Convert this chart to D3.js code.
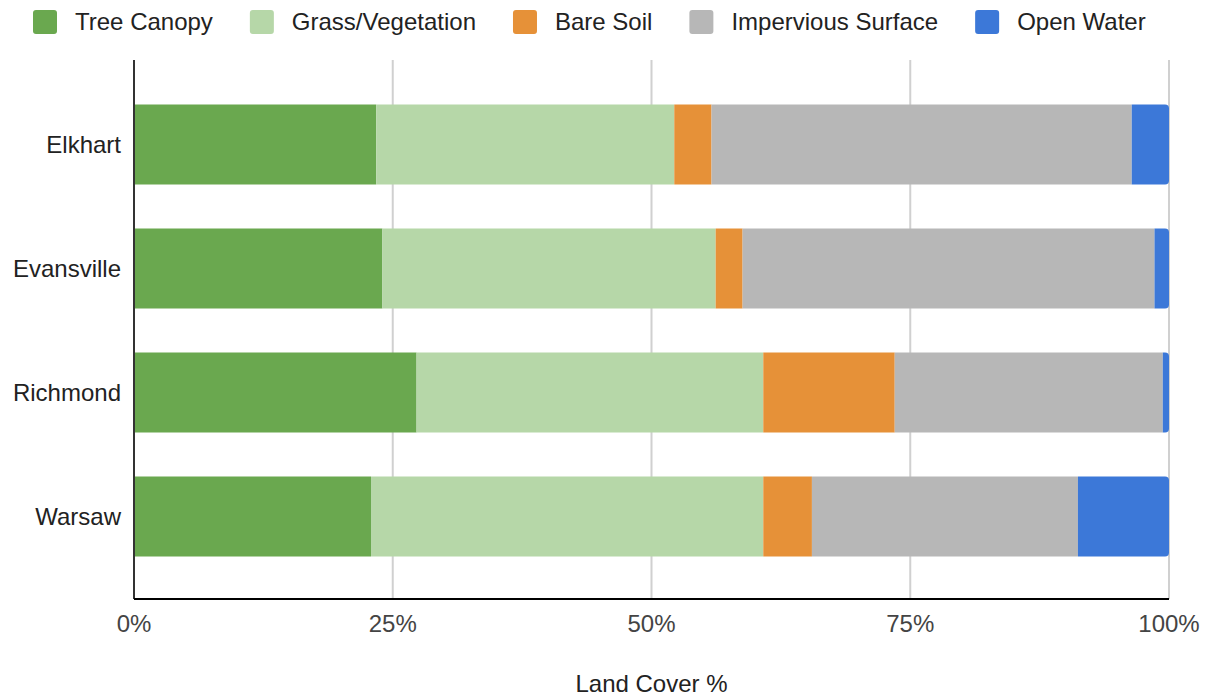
<!DOCTYPE html>
<html>
<head>
<meta charset="utf-8">
<script src="https://cdn.jsdelivr.net/npm/d3@7"></script>
<style>
  body { margin: 0; background: #fff; }
  svg { display: block; font-family: "Liberation Sans", Arial, sans-serif; }
</style>
</head>
<body>
<div id="chart"></div>
<script>
const cities = ["Elkhart", "Evansville", "Richmond", "Warsaw"];
const coverTypes = ["Tree Canopy", "Grass/Vegetation", "Bare Soil", "Impervious Surface", "Open Water"];
const colors = ["#6aa84f", "#b6d7a8", "#e69138", "#b7b7b7", "#3c78d8"];

// percent of land cover per city, same order as cities
const treeCanopy = [23.4, 24.0, 27.3, 22.9];
const grassVeg = [28.8, 32.2, 33.5, 37.9];
const bareSoil = [3.6, 2.6, 12.7, 4.7];
const impervious = [40.6, 39.8, 25.9, 25.7];
const openWater = [3.6, 1.4, 0.6, 8.8];

const xTicks = [0, 25, 50, 75, 100];

const W = 1206, H = 698;
const margin = {top: 60, right: 37, bottom: 99, left: 134};
const width = W - margin.left - margin.right, height = H - margin.top - margin.bottom;

const rows = cities.map(function (c, i) {
    return {city: c, "Tree Canopy": treeCanopy[i], "Grass/Vegetation": grassVeg[i], "Bare Soil": bareSoil[i],
        "Impervious Surface": impervious[i], "Open Water": openWater[i]};
});

const svg = d3.select("#chart").append("svg").attr("width", W).attr("height", H);
const g = svg.append("g").attr("transform", "translate(" + margin.left + "," + margin.top + ")");

const x = d3.scaleLinear().domain([0, 100]).range([0, width]);
const y = d3.scaleBand().domain(cities).range([1, height + 1]).paddingInner(0.355).paddingOuter(0.35);
const color = d3.scaleOrdinal().domain(coverTypes).range(colors);

// gridlines
g.append("g")
    .selectAll("line")
    .data(xTicks.slice(1))
    .enter()
    .append("line")
    .attr("x1", function (d) { return x(d); })
    .attr("x2", function (d) { return x(d); })
    .attr("y1", 0)
    .attr("y2", height)
    .attr("stroke", "#d0d0d0")
    .attr("stroke-width", 2);

const stack = d3.stack().keys(coverTypes)(rows);

// rounded right end for the last segment
function roundRight(x0, x1, y0, h, r) {
    r = Math.min(r, (x1 - x0));
    return "M" + x0 + "," + y0 + "H" + (x1 - r) + "Q" + x1 + "," + y0 + " " + x1 + "," + (y0 + r)
        + "V" + (y0 + h - r) + "Q" + x1 + "," + (y0 + h) + " " + (x1 - r) + "," + (y0 + h)
        + "H" + x0 + "Z";
}

stack.forEach(function (layer, li) {
    const last = li === stack.length - 1;
    g.append("g")
        .attr("fill", color(layer.key))
        .selectAll("path")
        .data(layer)
        .enter()
        .append("path")
        .attr("d", function (d) {
            const x0 = x(d[0]), x1 = x(d[1]), y0 = y(d.data.city), h = y.bandwidth();
            if (last) return roundRight(x0, x1, y0, h, 4);
            return "M" + x0 + "," + y0 + "H" + x1 + "V" + (y0 + h) + "H" + x0 + "Z";
        });
});

// axes lines
g.append("line")
    .attr("x1", 0).attr("x2", 0).attr("y1", 0).attr("y2", height)
    .attr("stroke", "#333").attr("stroke-width", 2);
g.append("line")
    .attr("x1", 0).attr("x2", width).attr("y1", height).attr("y2", height)
    .attr("stroke", "#000").attr("stroke-width", 2);

// x tick labels
g.append("g")
    .selectAll("text")
    .data(xTicks)
    .enter()
    .append("text")
    .attr("x", function (d) { return x(d); })
    .attr("y", height + 33)
    .attr("text-anchor", "middle")
    .style("font-size", "24px")
    .style("fill", "#444")
    .text(function (d) { return d + "%"; });

// y labels
g.append("g")
    .selectAll("text")
    .data(cities)
    .enter()
    .append("text")
    .attr("x", -13)
    .attr("y", function (d) { return y(d) + y.bandwidth() / 2; })
    .attr("dy", "0.35em")
    .attr("text-anchor", "end")
    .style("font-size", "24px")
    .style("fill", "#222")
    .text(function (d) { return d; });

// axis title
g.append("text")
    .attr("x", width / 2)
    .attr("y", height + 93)
    .attr("text-anchor", "middle")
    .style("font-size", "24px")
    .style("fill", "#222")
    .text("Land Cover %");

// legend
const legend = svg.append("g").attr("transform", "translate(33,0)");
let lx = 0;
coverTypes.forEach(function (k) {
    const item = legend.append("g").attr("transform", "translate(" + lx + ",0)");
    item.append("rect")
        .attr("x", 0).attr("y", 10)
        .attr("width", 24).attr("height", 24)
        .attr("rx", 3)
        .attr("fill", color(k));
    const t = item.append("text")
        .attr("x", 42)
        .attr("y", 22)
        .attr("dy", "0.35em")
        .style("font-size", "24px")
        .style("fill", "#222")
        .text(k);
    lx += 42 + t.node().getComputedTextLength() + 37;
});
</script>
</body>
</html>
